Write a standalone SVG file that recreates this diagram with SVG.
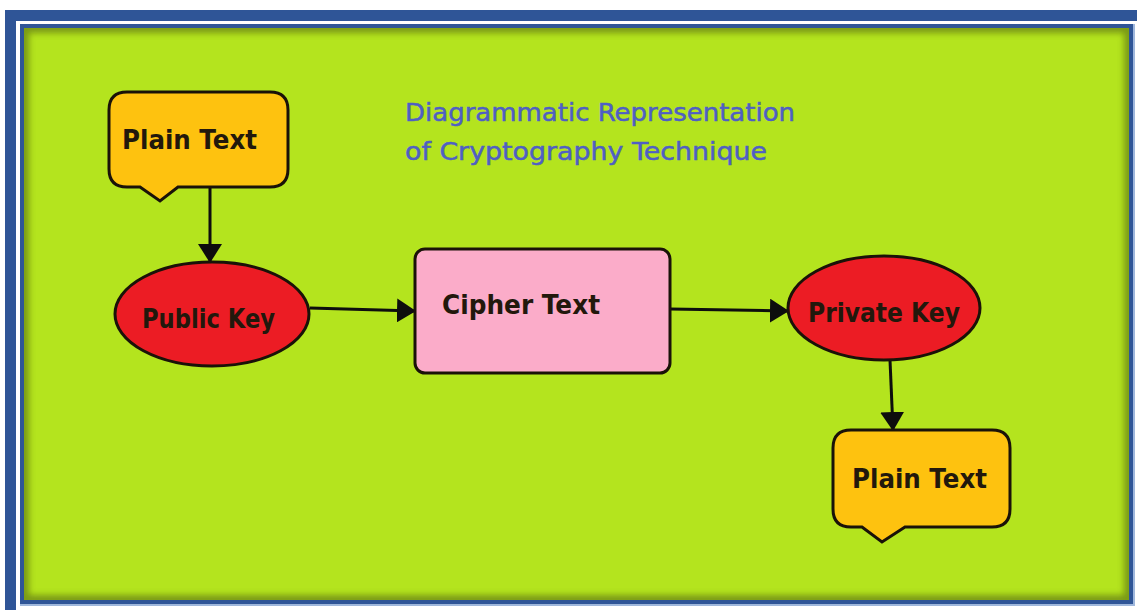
<svg xmlns="http://www.w3.org/2000/svg" width="1137" height="610" viewBox="0 0 1137 610">
  <style>
    .node-stroke { stroke: #1a1208; stroke-width: 3; }
    .label { font-family: "DejaVu Sans", "Liberation Sans", sans-serif; font-size: 26px; font-weight: bold; fill: #22180c; }
    .title { font-family: "DejaVu Sans", "Liberation Sans", sans-serif; font-size: 24px; fill: #4f5fc4; stroke: #4f5fc4; stroke-width: 0.5; }
    .conn { stroke: #0d0d0d; stroke-width: 3; fill: none; }
  </style>
  <defs>
    <marker id="arrow" markerUnits="userSpaceOnUse" markerWidth="20" markerHeight="24" refX="18" refY="12" orient="auto">
      <path d="M0,0 L19,12 L0,24 Z" fill="#0d0d0d"/>
    </marker>
    <clipPath id="greenClip">
      <rect x="24" y="28" width="1105" height="572"/>
    </clipPath>
    <filter id="blur" x="-5%" y="-5%" width="110%" height="110%">
      <feGaussianBlur stdDeviation="3"/>
    </filter>
  </defs>

  <!-- background & frame -->
  <rect x="0" y="0" width="1137" height="610" fill="#ffffff"/>
  <rect x="5" y="10" width="1132" height="11" fill="#2f5597"/>
  <rect x="5" y="10" width="11" height="600" fill="#2f5597"/>
  <rect x="20" y="24" width="1115" height="582" fill="#9fb7dc"/>
  <rect x="20" y="24" width="1113" height="580" fill="#2f5597"/>
  <rect x="24" y="28" width="1105" height="572" fill="#b4e41e"/>
  <g clip-path="url(#greenClip)">
    <rect x="24" y="28" width="1105" height="572" fill="none" stroke="#3f4d0a" stroke-width="10" opacity="0.5" filter="url(#blur)"/>
  </g>

  <!-- title -->
  <g id="title">
    <text class="title" x="405" y="121" textLength="390" lengthAdjust="spacingAndGlyphs">Diagrammatic Representation</text>
    <text class="title" x="405" y="160" textLength="362" lengthAdjust="spacingAndGlyphs">of Cryptography Technique</text>
  </g>

  <!-- connectors -->
  <g id="connectors">
    <line class="conn" x1="210" y1="187" x2="210" y2="262" marker-end="url(#arrow)"/>
    <line class="conn" x1="310" y1="308" x2="415" y2="311" marker-end="url(#arrow)"/>
    <line class="conn" x1="670" y1="309" x2="788" y2="311" marker-end="url(#arrow)"/>
    <line class="conn" x1="890" y1="360" x2="893" y2="430" marker-end="url(#arrow)"/>
  </g>

  <!-- nodes -->
  <g id="plain-text-top">
    <path class="node-stroke" fill="#fec20f" d="M127,92 H270 Q288,92 288,110 V169 Q288,187 270,187 H178 L160,201 L140,187 H127 Q109,187 109,169 V110 Q109,92 127,92 Z"/>
    <text class="label" x="122" y="149" textLength="135" lengthAdjust="spacingAndGlyphs">Plain Text</text>
  </g>

  <g id="public-key">
    <ellipse class="node-stroke" cx="212" cy="314" rx="97" ry="52" fill="#ec1c24"/>
    <text class="label" x="142" y="328" textLength="133" lengthAdjust="spacingAndGlyphs">Public Key</text>
  </g>

  <g id="cipher-text">
    <rect class="node-stroke" x="415" y="249" width="255" height="124" rx="10" fill="#fbacc9"/>
    <text class="label" x="442" y="314" textLength="158" lengthAdjust="spacingAndGlyphs">Cipher Text</text>
  </g>

  <g id="private-key">
    <ellipse class="node-stroke" cx="884" cy="308" rx="96" ry="52" fill="#ec1c24"/>
    <text class="label" x="808" y="322" textLength="152" lengthAdjust="spacingAndGlyphs">Private Key</text>
  </g>

  <g id="plain-text-bottom">
    <path class="node-stroke" fill="#fec20f" d="M851,430 H992 Q1010,430 1010,448 V509 Q1010,527 992,527 H905 L882,542 L862,527 H851 Q833,527 833,509 V448 Q833,430 851,430 Z"/>
    <text class="label" x="852" y="488" textLength="135" lengthAdjust="spacingAndGlyphs">Plain Text</text>
  </g>
</svg>
